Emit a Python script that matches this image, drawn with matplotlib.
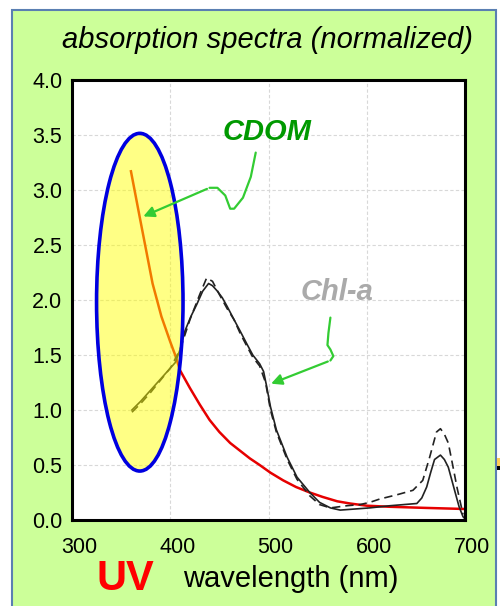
import matplotlib
matplotlib.use('Agg')
import matplotlib.pyplot as plt
import matplotlib.patches as mpatches
from matplotlib.transforms import ScaledTranslation

plt.rcParams['font.family'] = ['Liberation Sans', 'DejaVu Sans']

# CDOM absorption (red)
wl_cdom = [360, 369, 382, 391, 400, 405, 410, 420, 430, 440, 450, 461, 471, 481, 491, 502,
           515, 528, 542, 555, 570, 583, 600, 624, 660, 700]
a_cdom = [3.17, 2.75, 2.15, 1.85, 1.62, 1.50, 1.36, 1.20, 1.05, 0.91, 0.80, 0.70, 0.63,
          0.56, 0.50, 0.43, 0.36, 0.30, 0.25, 0.21, 0.17, 0.15, 0.13, 0.12, 0.11, 0.10]

# Chl-a absorption, solid sample
wl_chl = [361, 370, 380, 390, 400, 405, 410, 415, 421, 427, 433, 439, 443, 448, 453, 458,
          465, 471, 478, 484, 491, 495, 498, 502, 508, 519, 529, 542, 552, 563, 573, 588,
          603, 624, 651, 656, 661, 665, 669, 675, 679, 683, 690, 694, 698, 700]
a_chl = [1.00, 1.08, 1.18, 1.28, 1.38, 1.43, 1.55, 1.72, 1.85, 1.96, 2.08, 2.15, 2.13,
         2.08, 2.02, 1.94, 1.82, 1.72, 1.60, 1.50, 1.42, 1.35, 1.22, 1.03, 0.82, 0.57,
         0.39, 0.25, 0.16, 0.11, 0.09, 0.10, 0.11, 0.13, 0.15, 0.20, 0.30, 0.43, 0.55,
         0.59, 0.55, 0.48, 0.25, 0.12, 0.03, 0.01]

# Chl-a absorption, dashed sample
wl_chl2 = [361, 370, 380, 390, 400, 410, 420, 430, 437, 443, 450, 458, 465, 471, 478, 484,
           491, 497, 502, 508, 519, 529, 542, 552, 563, 580, 593, 603, 613, 631, 647, 657,
           664, 671, 675, 679, 683, 687, 692, 698]
a_chl2 = [0.98, 1.06, 1.16, 1.27, 1.38, 1.55, 1.82, 2.05, 2.20, 2.17, 2.05, 1.92, 1.82,
          1.70, 1.58, 1.48, 1.40, 1.25, 1.00, 0.80, 0.55, 0.37, 0.22, 0.14, 0.11, 0.13,
          0.14, 0.16, 0.19, 0.23, 0.27, 0.36, 0.57, 0.80, 0.83, 0.78, 0.70, 0.52, 0.29,
          0.05]

xticks = [300, 400, 500, 600, 700]
yticks = [0.0, 0.5, 1.0, 1.5, 2.0, 2.5, 3.0, 3.5, 4.0]

fig = plt.figure(figsize=(5, 6.06), dpi=100)
fig.patch.set_facecolor('white')
fig.patches.append(mpatches.Rectangle((12 / 500, -0.01), (496 - 12) / 500, 1.01 - 10 / 606,
                                      transform=fig.transFigure, facecolor='#ccff99',
                                      edgecolor='#5a7fb2', linewidth=1.5, zorder=-2))
# small cut-off object at the right edge
fig.patches.append(mpatches.Rectangle((497 / 500, 1 - 466 / 606), 3 / 500, 8 / 606,
                                      transform=fig.transFigure, facecolor='#ffcc55',
                                      edgecolor='none', zorder=-2))
fig.patches.append(mpatches.Rectangle((497 / 500, 1 - 470 / 606), 3 / 500, 4 / 606,
                                      transform=fig.transFigure, facecolor='black',
                                      edgecolor='none', zorder=-2))

ax = fig.add_axes([72 / 500, 1 - 520 / 606, (465 - 72) / 500, (520 - 80) / 606])
ax.set_zorder(1)
ax.set_facecolor('white')

ax.plot(wl_cdom, a_cdom, color='#e60000', lw=1.8, zorder=3)
ax.plot(wl_chl, a_chl, color='#222222', lw=1.2, zorder=4)
ax.plot(wl_chl2, a_chl2, color='#222222', lw=1.2, ls=(0, (5, 3)), zorder=4)

# UV ellipse
ax.add_patch(mpatches.Ellipse((369, 1.98), 88, 3.07, facecolor='#ffff00', alpha=0.48,
                              edgecolor='none', zorder=5))
ax.add_patch(mpatches.Ellipse((369, 1.98), 88, 3.07, facecolor='none',
                              edgecolor='#0000e0', lw=2.6, zorder=6))

# annotations
green = '#33cc33'
ax.text(498, 3.53, 'CDOM', color='#009900', fontsize=21, fontweight='bold',
        fontstyle='italic', ha='center', va='center', zorder=7)
cx = [487, 482, 474, 465, 461, 456, 448, 440]
cy = [3.34, 3.12, 2.93, 2.83, 2.83, 2.95, 3.02, 3.02]
ax.plot(cx, cy, color=green, lw=1.6, zorder=7, solid_capstyle='round')
ax.annotate('', xy=(370, 2.75), xytext=(cx[-1], cy[-1]),
            arrowprops=dict(arrowstyle='-|>', color=green, lw=1.6, mutation_scale=16),
            zorder=7)

ax.text(570, 2.07, 'Chl-a', color='#aaaaaa', fontsize=21, fontweight='bold',
        fontstyle='italic', ha='center', va='center', zorder=7)
hx = [563, 561, 560, 563, 566, 563]
hy = [1.84, 1.70, 1.59, 1.55, 1.49, 1.45]
ax.plot(hx, hy, color=green, lw=1.6, zorder=7, solid_capstyle='round')
ax.annotate('', xy=(500, 1.23), xytext=(hx[-1], hy[-1]),
            arrowprops=dict(arrowstyle='-|>', color=green, lw=1.6, mutation_scale=16),
            zorder=7)

ax.set_xlim(300, 700)
ax.set_ylim(0, 4)
ax.set_xticks(xticks)
ax.set_yticks(yticks)
ax.set_yticklabels([f'{v:.1f}' for v in yticks])
ax.tick_params(length=0, labelsize=15.5, colors='black')
ax.tick_params(axis='x', pad=12)
ax.tick_params(axis='y', pad=7)
for lab in ax.get_xticklabels():
    lab.set_transform(lab.get_transform() + ScaledTranslation(0.07, 0, fig.dpi_scale_trans))
ax.grid(True, color='#d8d8d8', lw=0.8, ls=(0, (3, 2)))
for s in ax.spines.values():
    s.set_linewidth(2.2)
    s.set_color('black')
    s.set_zorder(8)

fig.text(268 / 500, 1 - 40 / 606, 'absorption spectra (normalized)', fontsize=21,
         fontstyle='italic', ha='center', va='center')
fig.text(125 / 500, 1 - 579 / 606, 'UV', fontsize=30, fontweight='bold', color='#ff0000',
         ha='center', va='center')
fig.text(291 / 500, 1 - 579 / 606, 'wavelength (nm)', fontsize=21, ha='center',
         va='center')

plt.savefig('out.png', dpi=100, facecolor=fig.get_facecolor())
